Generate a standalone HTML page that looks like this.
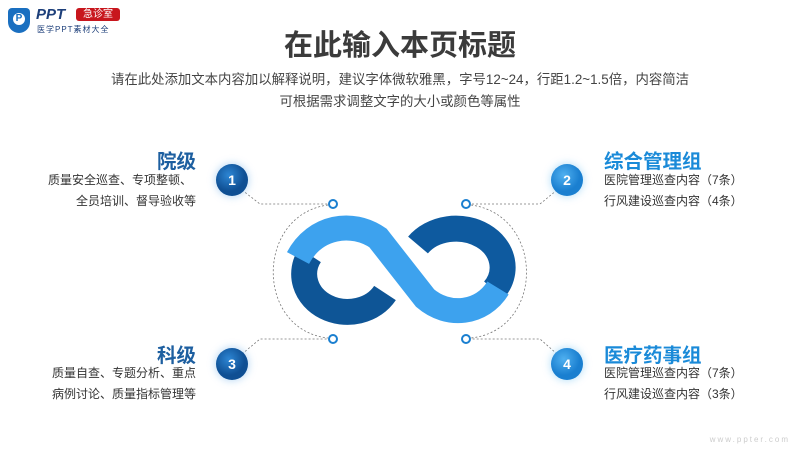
<!DOCTYPE html>
<html><head><meta charset="utf-8"><style>
body{margin:0;width:800px;height:450px;overflow:hidden;background:#fff;font-family:"Liberation Sans","Noto Sans CJK SC",sans-serif;position:relative}
.a{position:absolute;white-space:nowrap}
.t{left:0;width:800px;text-align:center;top:22px;font-size:29px;font-weight:bold;color:#3b3b3b}
.s{left:0;width:800px;text-align:center;font-size:13.4px;color:#444}
.h{font-size:19.5px;font-weight:bold}
.b{font-size:12px;color:#333}
.r{text-align:right}
</style></head><body>
<div class="a" style="left:8px;top:8px;width:22px;height:25px;background:#1a6fc0;border-radius:4px 4px 11px 11px"></div>
<div class="a" style="left:13px;top:13px;width:12px;height:12px;border-radius:50%;background:#fff;color:#1a6fc0;font-size:10px;font-weight:bold;text-align:center;line-height:12px">P</div>
<div class="a" style="left:36px;top:6px;font-size:15px;font-weight:bold;font-style:italic;color:#1d3f7a">PPT</div>
<div class="a" style="left:76px;top:8px;width:44px;height:13px;background:#c8161d;border-radius:3px;color:#fff;font-size:10px;text-align:center;line-height:13px">急诊室</div>
<div class="a" style="left:37px;top:24px;font-size:8px;color:#1d3f7a;letter-spacing:1px">医学PPT素材大全</div>

<div class="a t">在此输入本页标题</div>
<div class="a s" style="top:68px">请在此处添加文本内容加以解释说明，建议字体微软雅黑，字号12~24，行距1.2~1.5倍，内容简洁</div>
<div class="a s" style="top:90px">可根据需求调整文字的大小或颜色等属性</div>

<svg class="a" style="left:0;top:0" width="800" height="450">
<defs>
<radialGradient id="gd" cx="40%" cy="35%"><stop offset="0" stop-color="#2d86d4"/><stop offset="1" stop-color="#0f4f93"/></radialGradient>
<radialGradient id="gl" cx="40%" cy="35%"><stop offset="0" stop-color="#4fb0f0"/><stop offset="1" stop-color="#1a7fd0"/></radialGradient>
<filter id="sh" x="-1" y="-1" width="3" height="3"><feGaussianBlur stdDeviation="4"/></filter>
</defs>
<g fill="none" stroke="#777" stroke-width="0.8" stroke-dasharray="2,2">
<path d="M242 190 L260 204 L328 204"/>
<path d="M557 190 L540 204 L471 204"/>
<path d="M242 354 L260 339 L328 339"/>
<path d="M557 354 L540 339 L471 339"/>
<path d="M328 205 C255 215 255 330 328 338"/>
<path d="M471 205 C545 215 545 330 471 338"/>
</g>
<g fill="#fff" stroke="#1a7fd0" stroke-width="2">
<circle cx="333" cy="204" r="4"/><circle cx="466" cy="204" r="4"/>
<circle cx="333" cy="339" r="4"/><circle cx="466" cy="339" r="4"/>
</g>
<g fill="none" stroke-linecap="butt">
<path d="M310 255 A40 35 0 1 0 385 293" stroke="#0e5596" stroke-width="26"/>
<path d="M418 245 A42 35 0 1 1 494 290" stroke="#0e5a9f" stroke-width="26"/>
<path d="M298 258 C315 226 352 220 378 238 L425 298 C448 318 482 314 498 288" stroke="#3da2ee" stroke-width="25"/>
</g>
<g>
<circle cx="232" cy="180" r="17" fill="#7fb8ec" opacity=".5" filter="url(#sh)"/>
<circle cx="567" cy="180" r="17" fill="#7fc8f4" opacity=".5" filter="url(#sh)"/>
<circle cx="232" cy="364" r="17" fill="#7fb8ec" opacity=".5" filter="url(#sh)"/>
<circle cx="567" cy="364" r="17" fill="#7fc8f4" opacity=".5" filter="url(#sh)"/>
<circle cx="232" cy="180" r="16" fill="url(#gd)"/>
<circle cx="567" cy="180" r="16" fill="url(#gl)"/>
<circle cx="232" cy="364" r="16" fill="url(#gd)"/>
<circle cx="567" cy="364" r="16" fill="url(#gl)"/>
</g>
<g fill="#fff" font-size="14" font-weight="bold" text-anchor="middle" font-family="Liberation Sans,sans-serif">
<text x="232" y="185">1</text><text x="567" y="185">2</text><text x="232" y="369">3</text><text x="567" y="369">4</text>
</g>
<text x="790" y="442" text-anchor="end" font-size="8" fill="#ccc" letter-spacing="2" font-family="Liberation Sans,sans-serif">www.ppter.com</text>
</svg>

<div class="a h r" style="right:604px;top:145px;color:#1d5fa0">院级</div>
<div class="a b r" style="right:608px;top:171px">质量安全巡查、专项整顿、</div>
<div class="a b r" style="right:604px;top:192px">全员培训、督导验收等</div>

<div class="a h r" style="right:604px;top:339px;color:#1d5fa0">科级</div>
<div class="a b r" style="right:604px;top:364px">质量自查、专题分析、重点</div>
<div class="a b r" style="right:604px;top:385px">病例讨论、质量指标管理等</div>

<div class="a h" style="left:604px;top:145px;color:#1a8ad8">综合管理组</div>
<div class="a b" style="left:604px;top:171px">医院管理巡查内容（7条）</div>
<div class="a b" style="left:604px;top:192px">行风建设巡查内容（4条）</div>

<div class="a h" style="left:604px;top:339px;color:#1a8ad8">医疗药事组</div>
<div class="a b" style="left:604px;top:364px">医院管理巡查内容（7条）</div>
<div class="a b" style="left:604px;top:385px">行风建设巡查内容（3条）</div>
</body></html>
